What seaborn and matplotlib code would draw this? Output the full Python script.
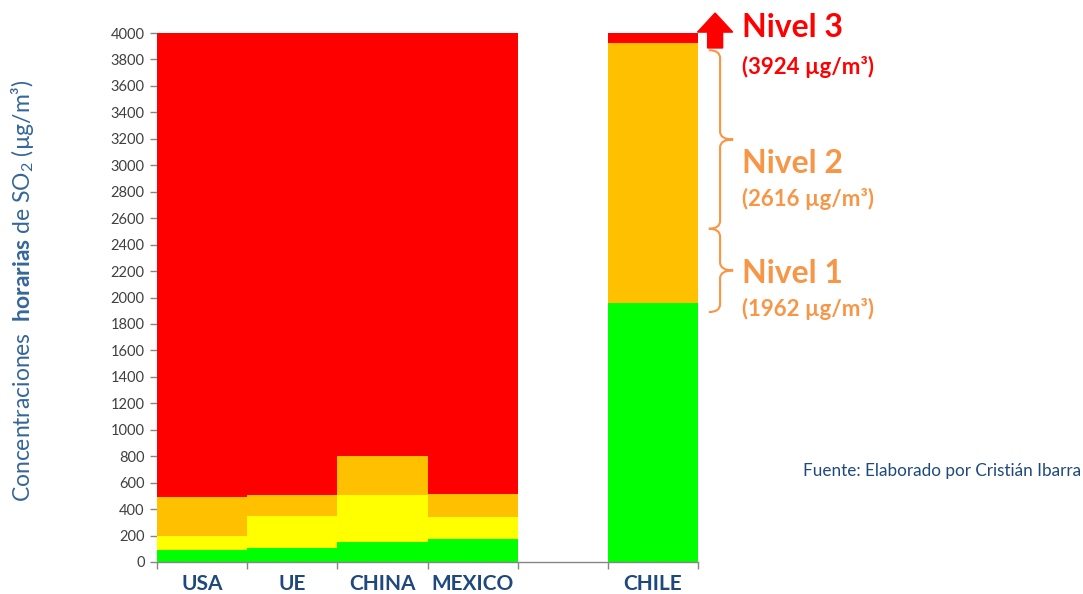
import numpy as np
import pandas as pd
import matplotlib
matplotlib.use("Agg")
import matplotlib.pyplot as plt
import seaborn as sns
from matplotlib.path import Path
from matplotlib.patches import PathPatch, FancyArrow

# ---------------- data ----------------
categories = ["USA", "UE", "CHINA", "MEXICO", "", "CHILE"]
green_top = [90, 102, 148, 172, 0, 1962]
yellow_top = [196, 350, 505, 342, 0, 1962]
orange_top = [490, 505, 800, 512, 0, 3924]
red_top = [4000, 4000, 4000, 4000, 0, 4000]

yticks = list(range(0, 4001, 200))

level_names = ["Nivel 3", "Nivel 2", "Nivel 1"]
level_values = ["(3924 µg/m³)", "(2616 µg/m³)", "(1962 µg/m³)"]
brace_spans = [(3870, 2520), (2520, 1890)]

# ---------------- style ----------------
sns.set_style("white")
plt.rcParams["font.family"] = ["Lato", "DejaVu Sans"]
plt.rcParams["mathtext.fontset"] = "custom"
plt.rcParams["mathtext.rm"] = "Lato"
plt.rcParams["mathtext.bf"] = "Lato:bold"
plt.rcParams["mathtext.it"] = "Lato:italic"

C_RED = "#FF0000"
C_ORANGE = "#FFC000"
C_YELLOW = "#FFFF00"
C_GREEN = "#00FF00"
C_TXT_ORANGE = "#F79646"
C_BLUE = "#1F497D"
C_GRAY = "#868686"

fig = plt.figure(figsize=(10.83, 5.94), dpi=100)
ax = fig.add_axes([0.145, 0.0539, 0.4995, 0.8905])

df = pd.DataFrame({"cat": categories, "red": red_top, "orange": orange_top,
                   "yellow": yellow_top, "green": green_top})

for col, color in [("red", C_RED), ("orange", C_ORANGE),
                   ("yellow", C_YELLOW), ("green", C_GREEN)]:
    sns.barplot(data=df, x="cat", y=col, order=categories, color=color,
                saturation=1, width=1.0, errorbar=None, ax=ax,
                linewidth=0)

for p in ax.patches:
    p.set_antialiased(False)

ax.set_xlim(-0.5, len(categories) - 0.5)
ax.set_ylim(0, 4000)
ax.set_yticks(yticks)
ax.set_yticklabels([str(v) for v in yticks], fontsize=10.5, color="#404040")
ax.set_xlabel("")
ax.set_ylabel("")

for s in ["top", "right", "left"]:
    ax.spines[s].set_visible(False)
ax.spines["bottom"].set_color(C_GRAY)
ax.spines["bottom"].set_linewidth(1.0)

ax.tick_params(axis="y", which="major", left=True, length=5, width=1,
               color=C_GRAY, direction="out", pad=4)
ax.set_xticks(range(len(categories)))
ax.set_xticklabels(categories, fontsize=15, fontweight="bold", color=C_BLUE)
ax.tick_params(axis="x", which="major", length=0, pad=9)
ax.set_xticks(np.arange(-0.5, len(categories), 1.0), minor=True)
ax.tick_params(axis="x", which="minor", bottom=True, length=5, width=1,
               color=C_GRAY, direction="out")

# y label
fig.text(0.021, 0.51,
         r"Concentraciones  $\mathbf{horarias}$ de SO$_2$ (µg/m³)",
         rotation=90, ha="center", va="center", fontsize=16.5, color="#35669A")

# arrow for level 3
x_arrow = 5.69
arrow = FancyArrow(x_arrow, 3887, 0, 4151 - 3887, width=0.166,
                   head_width=0.39, head_length=144,
                   length_includes_head=True, color=C_RED, clip_on=False)
ax.add_patch(arrow)

# braces
def brace(ax, ytop, ybot, xh=5.62, xs=5.745, xt=5.89, r=60, color=C_TXT_ORANGE):
    ym = (ytop + ybot) / 2
    verts = [(xh, ytop), (xs, ytop), (xs, ytop - r),
             (xs, ym + r),
             (xs, ym), (xt, ym),
             (xs, ym), (xs, ym - r),
             (xs, ybot + r),
             (xs, ybot), (xh, ybot)]
    codes = [Path.MOVETO, Path.CURVE3, Path.CURVE3,
             Path.LINETO,
             Path.CURVE3, Path.CURVE3,
             Path.CURVE3, Path.CURVE3,
             Path.LINETO,
             Path.CURVE3, Path.CURVE3]
    p = PathPatch(Path(verts, codes), fill=False, edgecolor=color,
                  linewidth=1.5, clip_on=False)
    ax.add_patch(p)

for yt, yb in brace_spans:
    brace(ax, yt, yb)

# level texts
x_txt = 5.99
name_y = [4045, 3010, 2178]
val_y = [3745, 2745, 1910]
txt_colors = [C_RED, C_TXT_ORANGE, C_TXT_ORANGE]
for name, val, yn, yv, c in zip(level_names, level_values, name_y, val_y, txt_colors):
    ax.text(x_txt, yn, name, fontsize=23, fontweight="bold", color=c,
            ha="left", va="center", clip_on=False)
    ax.text(x_txt, yv, val, fontsize=16, fontweight="bold", color=c,
            ha="left", va="center", clip_on=False)

fig.text(0.7415, 0.207, "Fuente: Elaborado por Cristián Ibarra",
         fontsize=12.3, color=C_BLUE, ha="left", va="center")

fig.savefig("out.png", dpi=100)
